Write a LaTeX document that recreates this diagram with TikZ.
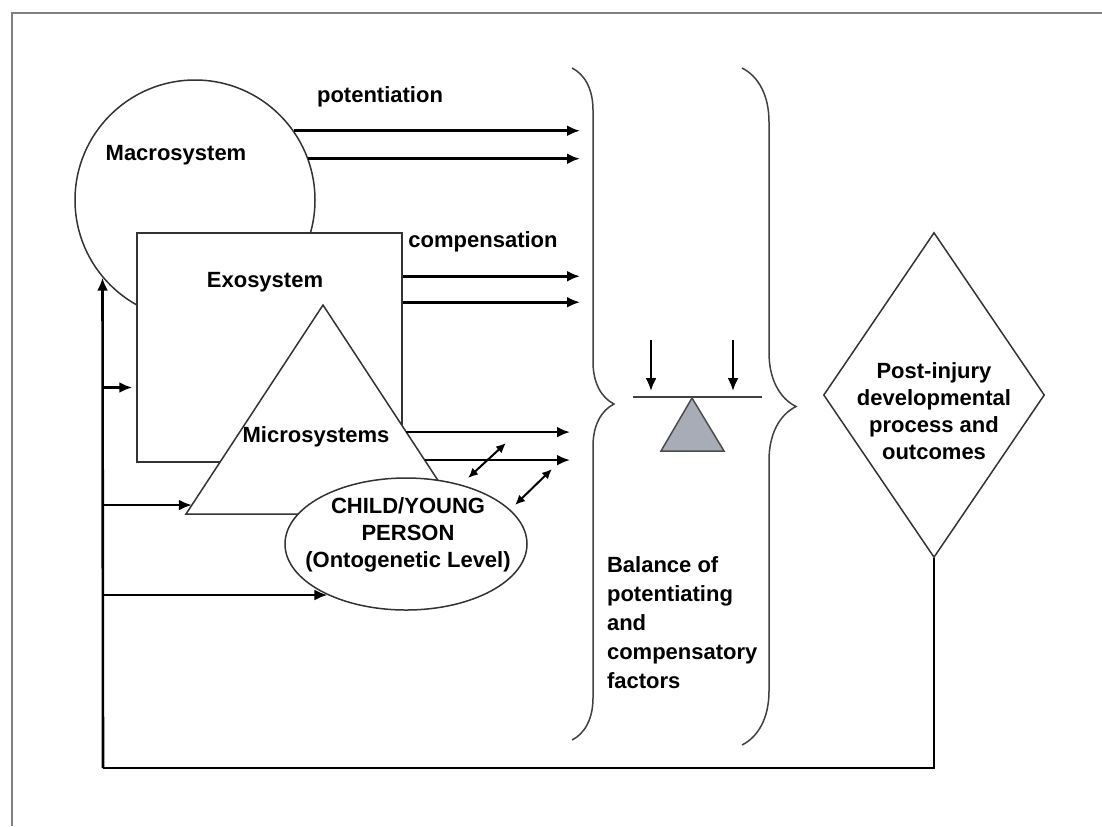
\documentclass[tikz,border=0pt]{standalone}
\usepackage{fontspec}
\setmainfont{Liberation Sans}
\usepackage{tikz}
\usetikzlibrary{shapes.geometric}
\usetikzlibrary{decorations.pathreplacing}
\usetikzlibrary{arrows.meta}
\usetikzlibrary{calc}
\usetikzlibrary{positioning}
\definecolor{scalegray}{RGB}{168,172,182}

\begin{document}
\begin{tikzpicture}[x=0.5pt, y=-0.5pt,
  every node/.style={font=\fontsize{11}{13.5}\selectfont\bfseries, text=black},
  sys/.style={draw=black!80, line width=0.75pt, fill=white, inner sep=0pt},
  flow/.style={-{Latex[length=6.5pt,width=5.5pt]}, line width=1.3pt},
  link/.style={{Latex[length=5pt,width=4.5pt]}-{Latex[length=5pt,width=4.5pt]}, line width=1pt},
  fback/.style={line width=1.3pt},
  curly/.style={decorate, decoration={brace, amplitude=#1}, draw=black!75, line width=0.75pt}]
\useasboundingbox (0,0) rectangle (1102,826);
\draw[gray, line width=1pt] (12,826) -- (12,13) -- (1102,13);

% nested systems
\node[sys, circle, minimum size=120pt] (Macro) at (195,200) {};
\node[sys, rectangle, minimum width=132.5pt, minimum height=114.5pt] (Exo) at (269.5,347.5) {};
\coordinate (MicroTop) at (323,305);
\coordinate (MicroLeft) at (186,514);
\coordinate (MicroRight) at (460,514);
\draw[sys] (MicroTop) -- (MicroLeft) -- (MicroRight) -- cycle;
\node[sys, ellipse, minimum width=121pt, minimum height=66pt] (Person) at (406,544) {};

\node (MacroLbl) at (176,155) {Macrosystem};
\node (ExoLbl) at (265,282) {Exosystem};
\node (MicroLbl) at (316,437) {Microsystems};
\node[align=center] (PersonLbl) at (408,535) {CHILD/YOUNG\\PERSON\\(Ontogenetic Level)};
\node (Potent) at (380,97) {potentiation};
\node (Compen) at (483,242) {compensation};

% braces
\coordinate (LBraceTop) at (572,68);
\coordinate (LBraceBot) at (572,740);
\coordinate (RBraceTop) at (742,68);
\coordinate (RBraceBot) at (742,745);
\draw[curly=21pt] (LBraceTop) -- (LBraceBot);
\draw[curly=27pt] (RBraceTop) -- (RBraceBot);

% arrows into the balance
\coordinate (Gate) at (580,0);
\coordinate (GateLow) at (570,0);
\draw[flow] (Macro.35) -- (Macro.35 -| Gate);
\draw[flow] (Macro.20.5) -- (Macro.20.5 -| Gate);
\coordinate (ExoOutA) at ([yshift=-22pt]Exo.north east);
\coordinate (ExoOutB) at ([yshift=-35pt]Exo.north east);
\draw[flow] (ExoOutA) -- (ExoOutA -| Gate);
\draw[flow] (ExoOutB) -- (ExoOutB -| Gate);
\coordinate (MicroOutA) at ($(MicroTop)!0.608!(MicroRight)$);
\coordinate (MicroOutB) at ($(MicroTop)!0.742!(MicroRight)$);
\draw[flow] (MicroOutA) -- (MicroOutA -| GateLow);
\draw[flow] (MicroOutB) -- (MicroOutB -| GateLow);

\coordinate (LinkA1) at (468,478);
\coordinate (LinkA2) at (506,443);
\coordinate (LinkB1) at (515,505);
\coordinate (LinkB2) at (552,469);
\draw[link] (LinkA1) -- (LinkA2);
\draw[link] (LinkB1) -- (LinkB2);

% balance scale
\coordinate (BeamL) at (633,397);
\coordinate (BeamR) at (762,397);
\coordinate (Pivot) at (692,398);
\draw[line width=0.75pt, black!75] (BeamL) -- (BeamR);
\draw[fill=scalegray, draw=black!70, line width=0.75pt] (Pivot) -- (661,451) -- (724,451) -- cycle;
\coordinate (WeightL) at (651,340);
\coordinate (WeightR) at (733,340);
\draw[flow, line width=1.1pt, shorten >=3pt] (WeightL) -- (WeightL |- BeamL);
\draw[flow, line width=1.1pt, shorten >=3pt] (WeightR) -- (WeightR |- BeamR);
\node[align=left, anchor=north west, font=\fontsize{11}{14.5}\selectfont\bfseries] (Balance) at (600,549) {Balance of\\potentiating\\and\\compensatory\\factors};

% outcome and feedback
\node[sys, diamond, minimum width=110.5pt, minimum height=162.5pt] (Outcome) at (934,395) {};
\node[align=center] (OutcomeLbl) at (934,411) {Post-injury\\developmental\\process and\\outcomes};
\coordinate (Loop) at (103,768);
\draw[fback] (Outcome.south) |- (Loop);
\draw[fback, flow] (Loop) -- (Macro.220);
\coordinate (ExoIn) at ([yshift=-20pt]Exo.west);
\coordinate (MicroIn) at ($(MicroTop)!0.957!(MicroLeft)$);
\draw[flow, shorten >=2pt] (ExoIn -| Loop) -- (ExoIn);
\draw[flow] (MicroIn -| Loop) -- (MicroIn);
\draw[flow] (Person.213.5 -| Loop) -- (Person.213.5);
\end{tikzpicture}
\end{document}
